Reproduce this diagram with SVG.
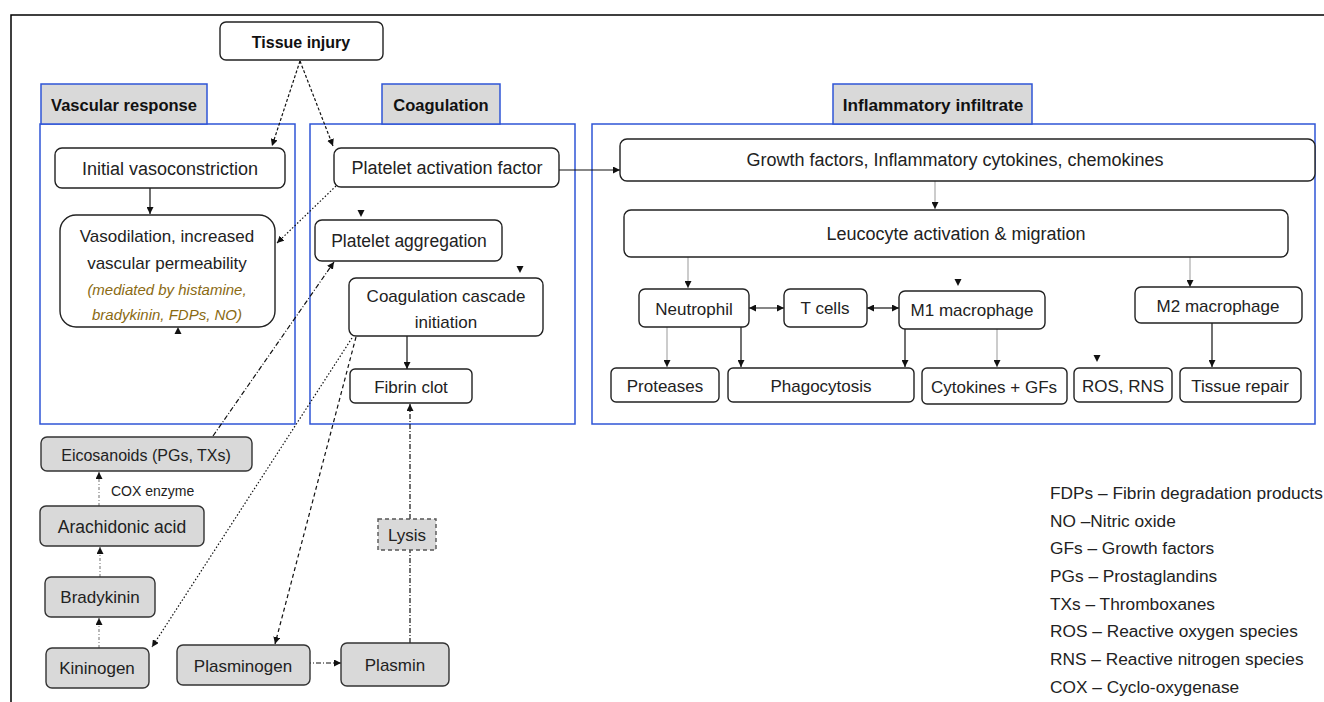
<svg xmlns="http://www.w3.org/2000/svg" width="1324" height="702" viewBox="0 0 1324 702">
<defs>
<marker id="ah" viewBox="0 0 10 10" refX="10" refY="5" markerWidth="7" markerHeight="7" markerUnits="userSpaceOnUse" orient="auto-start-reverse"><path d="M0,0 L10,5 L0,10 z" fill="#111"/></marker>
<style>
.bg{fill:#fff}
.frame{fill:none;stroke:#000;stroke-width:1.5}
.panel{fill:none;stroke:#2f55d6;stroke-width:1.5}
.hdr{fill:#d9d9d9;stroke:#2f55d6;stroke-width:1.5}
.node{fill:#fff;stroke:#222;stroke-width:1.4}
.gnode{fill:#d9d9d9;stroke:#333;stroke-width:1.4}
.dnode{fill:#d9d9d9;stroke:#555;stroke-width:1.4;stroke-dasharray:4 3}
text{font-family:"Liberation Sans",Arial,sans-serif;font-size:17px;fill:#222;text-anchor:middle;dominant-baseline:central}
.b{font-weight:bold;font-size:16.5px;fill:#111}
.l{font-size:18px}
.it{font-style:italic;font-size:15px;fill:#8a6a12}
.lg{text-anchor:start;font-size:17.3px}
.sm{font-size:14px;text-anchor:start}
.c{fill:none;stroke:#111;stroke-width:1.2}
.lt{stroke:#aaa}
.dash{stroke-dasharray:3 2}
.dot{stroke-dasharray:1.5 2}
.dd{stroke-dasharray:5 2 1 2}
.ld{stroke-dasharray:4 3}
.gd{stroke:#888;stroke-dasharray:3 2 1 2}
</style>
</defs>
<rect class="bg" x="0" y="0" width="1324" height="702"/>
<path class="frame" d="M11,702 V15 H1324"/>

<g id="vascular-panel"><rect class="panel" x="40" y="124" width="255" height="300"/><rect class="hdr" x="41" y="84" width="166" height="40"/><text class="b" x="124" y="105">Vascular response</text></g>
<g id="coagulation-panel"><rect class="panel" x="310" y="124" width="265" height="300"/><rect class="hdr" x="382" y="84" width="118" height="40"/><text class="b" x="441" y="105">Coagulation</text></g>
<g id="inflammatory-panel"><rect class="panel" x="592" y="124" width="723" height="300"/><rect class="hdr" x="833" y="84" width="199" height="40"/><text class="b" x="933" y="105" style="font-size:17.2px">Inflammatory infiltrate</text></g>

<g id="connectors">
<line class="c dash" x1="300" y1="61" x2="272" y2="146" marker-end="url(#ah)"/>
<line class="c dash" x1="300" y1="61" x2="333" y2="146" marker-end="url(#ah)"/>
<line class="c" x1="150" y1="188" x2="150" y2="214" marker-end="url(#ah)"/>
<line class="c dot" x1="336" y1="186" x2="277" y2="243" marker-end="url(#ah)"/>
<line class="c" x1="559" y1="170" x2="620" y2="170" marker-end="url(#ah)"/>
<line class="c" x1="407" y1="336" x2="407" y2="369" marker-end="url(#ah)"/>
<line class="c dd" x1="410" y1="519" x2="410" y2="404" marker-end="url(#ah)"/>
<line class="c dd" x1="410" y1="643" x2="410" y2="550"/>
<line class="c dd" x1="306" y1="663" x2="341" y2="663" marker-end="url(#ah)"/>
<line class="c ld" x1="356" y1="337" x2="275" y2="644" marker-end="url(#ah)"/>
<line class="c dot" x1="352" y1="338" x2="152" y2="647" marker-end="url(#ah)"/>
<line class="c dd" x1="213" y1="436" x2="334" y2="262" marker-end="url(#ah)"/>
<line class="c gd" x1="99" y1="648" x2="99" y2="618" marker-end="url(#ah)"/>
<line class="c gd" x1="100" y1="577" x2="100" y2="547" marker-end="url(#ah)"/>
<line class="c gd" x1="99" y1="506" x2="99" y2="472" marker-end="url(#ah)"/>
<text class="sm" x="111" y="491">COX enzyme</text>
<line class="c lt" x1="935" y1="181" x2="935" y2="209" marker-end="url(#ah)"/>
<line class="c lt" x1="688" y1="257" x2="688" y2="288" marker-end="url(#ah)"/>
<line class="c lt" x1="1190" y1="257" x2="1190" y2="287" marker-end="url(#ah)"/>
<line class="c" x1="749" y1="308" x2="784" y2="308" marker-start="url(#ah)" marker-end="url(#ah)"/>
<line class="c" x1="867" y1="308" x2="899" y2="308" marker-start="url(#ah)" marker-end="url(#ah)"/>
<line class="c lt" x1="667" y1="327" x2="667" y2="367" marker-end="url(#ah)"/>
<line class="c" x1="741" y1="327" x2="741" y2="367" marker-end="url(#ah)"/>
<line class="c" x1="905" y1="329" x2="905" y2="367" marker-end="url(#ah)"/>
<line class="c lt" x1="997" y1="329" x2="997" y2="367" marker-end="url(#ah)"/>
<line class="c" x1="1212" y1="323" x2="1212" y2="367" marker-end="url(#ah)"/>
<path d="M174.5,334 L178,327 L181.5,334 z" fill="#111"/>
<path d="M357.5,210 L361,217 L364.5,210 z" fill="#111"/>
<path d="M516.5,266 L520,273 L523.5,266 z" fill="#111"/>
<path d="M954.5,279 L958,286 L961.5,279 z" fill="#111"/>
<path d="M1093.5,355 L1097,362 L1100.5,355 z" fill="#111"/>
</g>

<g id="tissue-injury"><rect class="node" x="220" y="22" width="163" height="38" rx="6"/><text class="b" x="301" y="42" style="font-size:16px">Tissue injury</text></g>
<g id="initial-vasoconstriction"><rect class="node" x="55" y="148" width="230" height="40" rx="7"/><text class="l" x="170" y="169">Initial vasoconstriction</text></g>
<g id="vasodilation"><rect class="node" x="60" y="215" width="215" height="112" rx="16"/><text x="167" y="236">Vasodilation, increased</text><text x="167" y="263">vascular permeability</text><text class="it" x="167" y="289">(mediated by histamine,</text><text class="it" x="167" y="314">bradykinin, FDPs, NO)</text></g>
<g id="platelet-activation-factor"><rect class="node" x="334" y="148" width="225" height="39" rx="7"/><text class="l" x="447" y="168">Platelet activation factor</text></g>
<g id="platelet-aggregation"><rect class="node" x="315" y="220" width="187" height="41" rx="7"/><text x="409" y="241" style="font-size:17.5px">Platelet aggregation</text></g>
<g id="coagulation-cascade"><rect class="node" x="349" y="278" width="194" height="58" rx="7"/><text x="446" y="296">Coagulation cascade</text><text x="446" y="322">initiation</text></g>
<g id="fibrin-clot"><rect class="node" x="350" y="369" width="122" height="34" rx="5"/><text x="411" y="387">Fibrin clot</text></g>
<g id="lysis"><rect class="dnode" x="378" y="519" width="58" height="31"/><text x="407" y="535">Lysis</text></g>
<g id="plasmin"><rect class="gnode" x="341" y="643" width="108" height="43" rx="6"/><text x="395" y="665">Plasmin</text></g>
<g id="plasminogen"><rect class="gnode" x="177" y="645" width="133" height="40" rx="6"/><text x="243" y="666">Plasminogen</text></g>
<g id="kininogen"><rect class="gnode" x="46" y="648" width="103" height="40" rx="6"/><text x="97" y="668">Kininogen</text></g>
<g id="bradykinin"><rect class="gnode" x="45" y="577" width="110" height="40" rx="6"/><text x="100" y="597">Bradykinin</text></g>
<g id="arachidonic-acid"><rect class="gnode" x="40" y="506" width="164" height="40" rx="6"/><text x="122" y="527" style="font-size:17.5px">Arachidonic acid</text></g>
<g id="eicosanoids"><rect class="gnode" x="41" y="437" width="211" height="34" rx="6"/><text x="146" y="455" style="font-size:16px">Eicosanoids (PGs, TXs)</text></g>

<g id="growth-factors"><rect class="node" x="620" y="139" width="695" height="42" rx="7"/><text class="l" x="955" y="160">Growth factors, Inflammatory cytokines, chemokines</text></g>
<g id="leucocyte"><rect class="node" x="624" y="210" width="664" height="47" rx="7"/><text class="l" x="956" y="234">Leucocyte activation &amp; migration</text></g>
<g id="neutrophil"><rect class="node" x="639" y="289" width="110" height="38" rx="6"/><text x="694" y="309">Neutrophil</text></g>
<g id="t-cells"><rect class="node" x="784" y="289" width="83" height="38" rx="6"/><text x="825" y="308">T cells</text></g>
<g id="m1-macrophage"><rect class="node" x="899" y="291" width="146" height="38" rx="6"/><text x="972" y="310">M1 macrophage</text></g>
<g id="m2-macrophage"><rect class="node" x="1135" y="287" width="167" height="36" rx="6"/><text x="1218" y="306">M2 macrophage</text></g>
<g id="proteases"><rect class="node" x="611" y="368" width="108" height="34" rx="5"/><text x="665" y="386">Proteases</text></g>
<g id="phagocytosis"><rect class="node" x="728" y="368" width="186" height="34" rx="5"/><text x="821" y="386">Phagocytosis</text></g>
<g id="cytokines-gfs"><rect class="node" x="922" y="368" width="145" height="36" rx="5"/><text x="994" y="387">Cytokines + GFs</text></g>
<g id="ros-rns"><rect class="node" x="1074" y="368" width="98" height="34" rx="5"/><text x="1123" y="386">ROS, RNS</text></g>
<g id="tissue-repair"><rect class="node" x="1180" y="368" width="121" height="34" rx="5"/><text x="1240" y="386">Tissue repair</text></g>

<g id="legend">
<text class="lg" x="1050" y="493">FDPs – Fibrin degradation products</text>
<text class="lg" x="1050" y="521">NO –Nitric oxide</text>
<text class="lg" x="1050" y="548">GFs – Growth factors</text>
<text class="lg" x="1050" y="576">PGs – Prostaglandins</text>
<text class="lg" x="1050" y="604">TXs – Thromboxanes</text>
<text class="lg" x="1050" y="631">ROS – Reactive oxygen species</text>
<text class="lg" x="1050" y="659">RNS – Reactive nitrogen species</text>
<text class="lg" x="1050" y="687">COX – Cyclo-oxygenase</text>
</g>
</svg>
